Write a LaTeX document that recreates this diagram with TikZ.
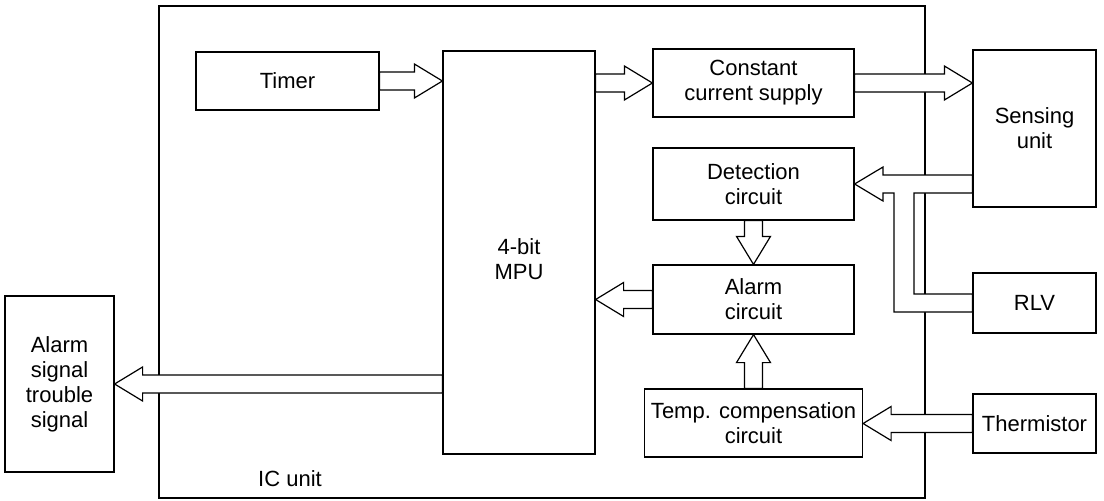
\documentclass[tikz,border=0pt]{standalone}
\usepackage{fontspec}
\setmainfont{Liberation Sans}
\usetikzlibrary{calc}
\newcommand\farR[2]{\filldraw[fatarrow] let \p1=#1, \p2=#2 in (\x1,\y2+9pt) -- (\x2-28pt,\y2+9pt) -- (\x2-28pt,\y2+17pt) -- (\x2,\y2) -- (\x2-28pt,\y2-17pt) -- (\x2-28pt,\y2-9pt) -- (\x1,\y2-9pt) -- cycle;}
\newcommand\farL[2]{\filldraw[fatarrow] let \p1=#1, \p2=#2 in (\x1,\y2+9pt) -- (\x2+28pt,\y2+9pt) -- (\x2+28pt,\y2+17pt) -- (\x2,\y2) -- (\x2+28pt,\y2-17pt) -- (\x2+28pt,\y2-9pt) -- (\x1,\y2-9pt) -- cycle;}
\newcommand\farD[2]{\filldraw[fatarrow] let \p1=#1, \p2=#2 in (\x2+9pt,\y1) -- (\x2+9pt,\y2+28pt) -- (\x2+17pt,\y2+28pt) -- (\x2,\y2) -- (\x2-17pt,\y2+28pt) -- (\x2-9pt,\y2+28pt) -- (\x2-9pt,\y1) -- cycle;}
\newcommand\farU[2]{\filldraw[fatarrow] let \p1=#1, \p2=#2 in (\x2+9pt,\y1) -- (\x2+9pt,\y2-28pt) -- (\x2+17pt,\y2-28pt) -- (\x2,\y2) -- (\x2-17pt,\y2-28pt) -- (\x2-9pt,\y2-28pt) -- (\x2-9pt,\y1) -- cycle;}
\begin{document}
\begin{tikzpicture}[x=1pt,y=-1pt, line width=1.2pt,
  lbl/.style={font=\fontsize{22}{25}\selectfont, align=center, inner sep=0pt},
  box/.style={draw, rectangle, lbl},
  fatarrow/.style={draw, fill=white, line join=miter}]
\useasboundingbox (0,0) rectangle (1104,501);
% IC unit frame
\node[draw, rectangle, inner sep=0pt, minimum width=766pt, minimum height=492pt] (ic) at (542,252) {};
\node[lbl] (iclabel) at (290,479) {IC unit};
% blocks
\node[box, minimum width=183pt, minimum height=58pt] (timer) at (287.5,81) {Timer};
\node[box, minimum width=152pt, minimum height=403pt] (mpu) at (519,252.5) {};
\node[lbl] (mputext) at ($(mpu.center)+(0,7)$) {4-bit\\MPU};
\node[box, minimum width=201pt, minimum height=68pt] (ccs) at (753.5,83) {Constant\\current supply};
\node[box, minimum width=201pt, minimum height=72pt] (det) at (753.5,184) {Detection\\circuit};
\node[box, minimum width=201pt, minimum height=69pt] (alarm) at (753.5,299.5) {Alarm\\circuit};
\node[box, minimum width=218pt, minimum height=68pt] (temp) at (753.5,423) {Temp. compensation\\circuit};
\node[box, minimum width=123pt, minimum height=157pt] (sens) at (1034.5,128.5) {Sensing\\unit};
\node[box, minimum width=123pt, minimum height=60pt] (rlv) at (1034.5,303) {RLV};
\node[box, minimum width=123pt, minimum height=59pt] (therm) at (1034.5,423.5) {Thermistor};
\node[box, minimum width=109pt, minimum height=176pt] (asig) at (59.5,384) {Alarm\\signal\\trouble\\signal};
% fat arrows
\farR{(timer.east)}{(timer.east -| mpu.west)}
\farR{(ccs.west -| mpu.east)}{(ccs.west)}
\farR{(ccs.east)}{(ccs.east -| sens.west)}
\farL{(alarm.west)}{(alarm.west -| mpu.east)}
\farL{(therm.west)}{(therm.west -| temp.east)}
\farL{(asig.east -| mpu.west)}{(asig.east)}
\farD{(det.south)}{(alarm.north)}
\farU{(temp.north)}{(alarm.south)}
% sensing unit + RLV to detection circuit
\filldraw[fatarrow] (sens.west |- 0,175) -- (883,175) -- (883,167) -- (det.east) -- (883,201) -- (883,193)
  -- (894,193) -- (894,312) -- (rlv.west |- 0,312) -- (rlv.west |- 0,294) -- (914,294) -- (914,193)
  -- (sens.west |- 0,193) -- cycle;
\end{tikzpicture}
\end{document}
